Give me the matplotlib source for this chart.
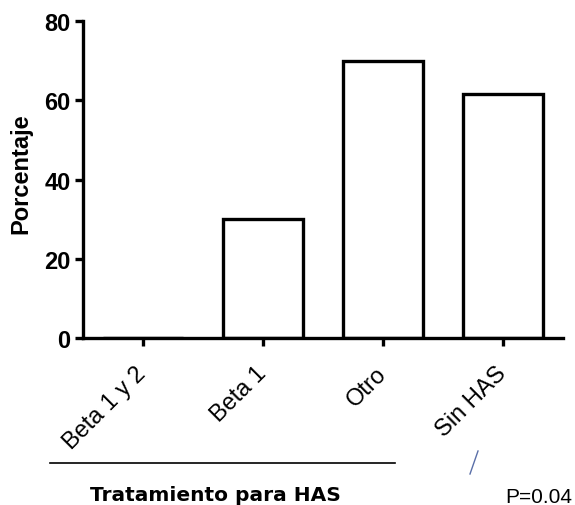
import matplotlib
matplotlib.use("Agg")
import matplotlib.pyplot as plt
from matplotlib import font_manager
from matplotlib.font_manager import FontProperties
from matplotlib.lines import Line2D

categories = ["Beta 1 y 2", "Beta 1", "Otro", "Sin HAS"]
porcentaje = [0, 30, 70, 61.5]
y_ticks = [0, 20, 40, 60, 80]

# buscar Liberation Sans normal (no Narrow)
reg_file = None
bold_file = None
for f in font_manager.findSystemFonts():
    name = f.split("/")[-1]
    if name == "LiberationSans-Regular.ttf":
        reg_file = f
    if name == "LiberationSans-Bold.ttf":
        bold_file = f

def fp(size, bold=False):
    f = bold_file if bold else reg_file
    if f:
        return FontProperties(fname=f, size=size)
    return FontProperties(family="DejaVu Sans", size=size,
                          weight="bold" if bold else "normal")

fig = plt.figure(figsize=(5.75, 5.06), dpi=100)
ax = fig.add_axes([0.1443, 0.330, 0.835, 0.6265])

x = range(len(categories))
ax.bar(x, porcentaje, width=0.67, color="white", edgecolor="black", linewidth=2.4)

ax.set_xlim(-0.5, 3.5)
ax.set_ylim(0, 80)
ax.set_yticks(y_ticks)
ax.set_yticklabels([str(v) for v in y_ticks], fontproperties=fp(17, True))
ax.set_xticks(list(x))
ax.set_xticklabels(categories, fontproperties=fp(17), rotation=45, ha="right",
                   va="center", rotation_mode="anchor")

for side in ["top", "right"]:
    ax.spines[side].set_visible(False)
for side in ["left", "bottom"]:
    ax.spines[side].set_linewidth(2.4)
ax.tick_params(axis="both", direction="out", length=6, width=2.4, pad=3)
ax.tick_params(axis="x", pad=17)

ax.set_ylabel("Porcentaje", fontproperties=fp(17, True))
ax.yaxis.set_label_coords(-0.105, 0.52)

# linea y texto bajo el eje
fig.add_artist(Line2D([50 / 575, 395 / 575], [1 - 464 / 506, 1 - 464 / 506],
                      color="black", linewidth=1.2))
fig.text(90 / 575, 1 - 496 / 506, "Tratamiento para HAS", fontsize=14.5,
         fontweight="bold", family="DejaVu Sans", va="center", ha="left")
fig.add_artist(Line2D([470 / 575, 478 / 575], [1 - 475 / 506, 1 - 452 / 506],
                      color="#5a6fa8", linewidth=1.0))
fig.text(505 / 575, 1 - 498 / 506, "P=0.04", fontproperties=fp(15),
         va="center", ha="left")

fig.savefig("out.png", dpi=100)
